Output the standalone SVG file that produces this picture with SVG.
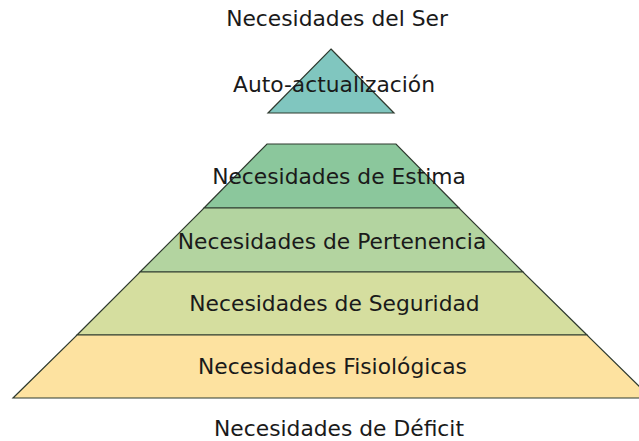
<svg xmlns="http://www.w3.org/2000/svg" width="639" height="441" viewBox="0 0 639 441">
<style>
.s{stroke:#2f3a2f;stroke-width:1.2;stroke-linejoin:miter}
.t{font-family:"DejaVu Sans",Verdana,sans-serif;font-size:21.8px;fill:#1a1a1a;text-anchor:middle}
</style>
<rect width="639" height="441" fill="#ffffff"/>
<g id="top"><polygon class="s" points="331,49 394,113 268,113" fill="#80c6bf"/><text class="t" x="334" y="92">Auto-actualización</text></g>
<g id="estima"><polygon class="s" points="267,144 396,144 459,208 204,208" fill="#8bc79c"/></g>
<g id="pertenencia"><polygon class="s" points="204,208 459,208 523,272 140,272" fill="#b3d4a0"/></g>
<g id="seguridad"><polygon class="s" points="140,272 523,272 587,335 77,335" fill="#d5de9f"/></g>
<g id="fisiologicas"><polygon class="s" points="77,335 587,335 651,398 13,398" fill="#fde2a0"/></g>
<g id="labels">
<text class="t" x="337" y="26">Necesidades del Ser</text>
<text class="t" x="339" y="184">Necesidades de Estima</text>
<text class="t" x="332" y="249">Necesidades de Pertenencia</text>
<text class="t" x="334.5" y="311">Necesidades de Seguridad</text>
<text class="t" x="332.5" y="374">Necesidades Fisiológicas</text>
<text class="t" x="339" y="436">Necesidades de Déficit</text>
</g>
</svg>
